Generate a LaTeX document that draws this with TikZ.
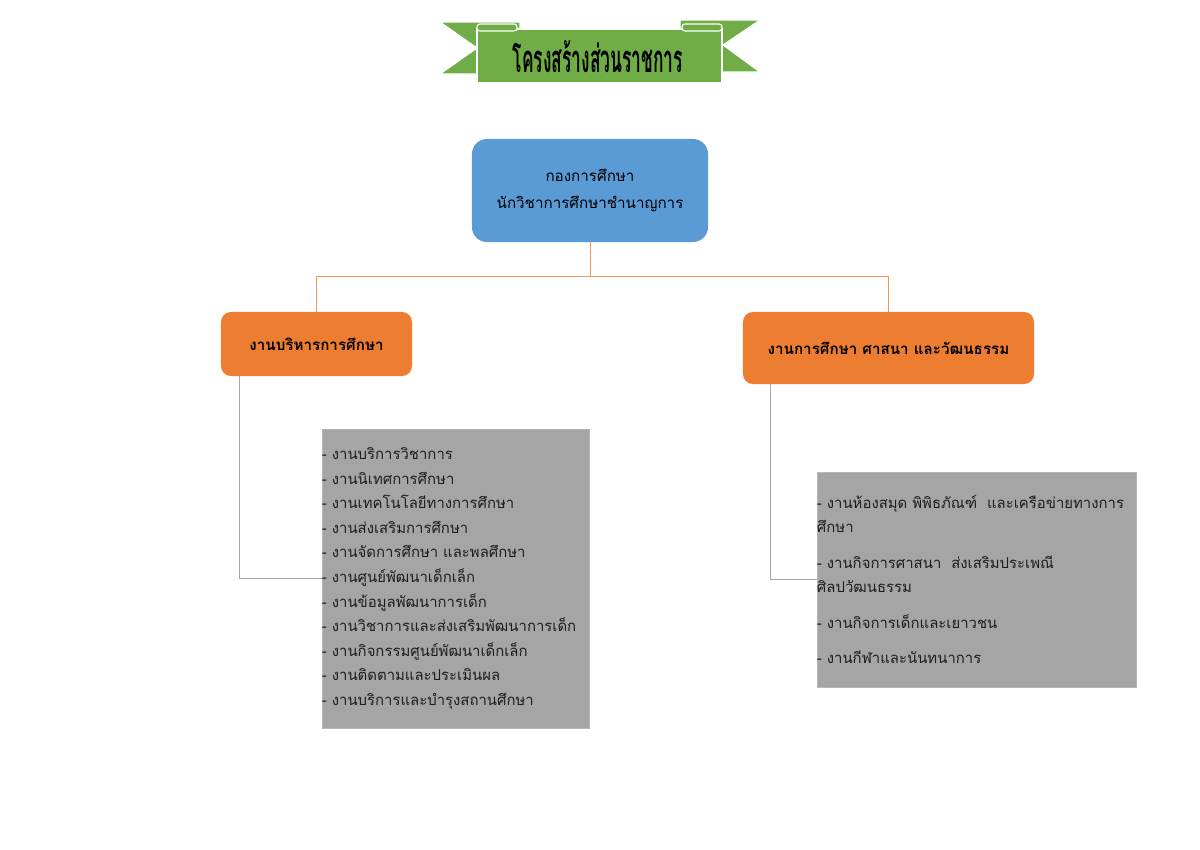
\documentclass[tikz,border=0pt]{standalone}
\usepackage{fontspec}
\setmainfont[Script=Thai]{Loma}
\usetikzlibrary{positioning}
\definecolor{ribbongreen}{HTML}{70AD47}
\definecolor{headblue}{HTML}{5B9BD5}
\definecolor{workorange}{HTML}{ED7D31}
\definecolor{listgray}{HTML}{A5A5A5}
\definecolor{inkgray}{HTML}{1E1E1E}

\begin{document}
\begin{tikzpicture}[x=0.025cm,y=-0.025cm,
  ribbon/.style={fill=ribbongreen,draw=white,line width=0.8pt},
  headbox/.style={fill=headblue,rounded corners=0.375cm,minimum width=5.9cm,minimum height=2.575cm,
    align=center,font=\fontsize{10.8}{19}\selectfont,text=black},
  workbox/.style={fill=workorange,rounded corners=0.25cm,align=center,
    font=\fontsize{10.8}{17}\selectfont\bfseries,text=black},
  listbox/.style={fill=listgray,draw=listgray!80!white,align=left,inner xsep=0pt,inner ysep=0pt,
    font=\fontsize{10.6}{17.5}\selectfont,text=inkgray},
  orangeline/.style={draw=workorange!80!white,line width=0.6pt},
  grayline/.style={draw=listgray,line width=0.6pt}]
\useasboundingbox[fill=white] (0,0) rectangle (1200,849);

\filldraw[ribbon] (440,22) -- (520,22) -- (520,74) -- (440,74) -- (477,48) -- cycle;
\filldraw[ribbon] (680,20) -- (760,20) -- (723,45) -- (760,72) -- (680,72) -- cycle;
\filldraw[ribbon] (477,29) rectangle (722,83);
\filldraw[ribbon,rounded corners=2pt] (477,24) rectangle (517,31);
\filldraw[ribbon,rounded corners=2pt] (682,24) rectangle (722,31);
\node (title) at (598,57) {\resizebox{4.25cm}{0.8cm}{\bfseries โครงสร้างส่วนราชการ}};

\node[headbox] (head) at (590,190.5) {กองการศึกษา\\นักวิชาการศึกษาชำนาญการ};
\node[workbox,minimum width=4.775cm,minimum height=1.6cm] (admin) at (316.5,344) {งานบริหารการศึกษา};
\node[workbox,minimum width=7.275cm,minimum height=1.8cm] (culture) at (888.5,348) {งานการศึกษา ศาสนา และวัฒนธรรม};

\node[listbox,text width=6.675cm,minimum height=7.475cm] (adminlist) at (455.5,578.5) {%
- งานบริการวิชาการ\\
- งานนิเทศการศึกษา\\
- งานเทคโนโลยีทางการศึกษา\\
- งานส่งเสริมการศึกษา\\
- งานจัดการศึกษา และพลศึกษา\\
- งานศูนย์พัฒนาเด็กเล็ก\\
- งานข้อมูลพัฒนาการเด็ก\\
- งานวิชาการและส่งเสริมพัฒนาการเด็ก\\
- งานกิจกรรมศูนย์พัฒนาเด็กเล็ก\\
- งานติดตามและประเมินผล\\
- งานบริการและบำรุงสถานศึกษา};
\node[listbox,text width=7.975cm,minimum height=5.375cm] (culturelist) at (976.5,579.5) {%
- งานห้องสมุด พิพิธภัณฑ์\ \ และเครือข่ายทางการ\\
ศึกษา\\[0.27cm]
- งานกิจการศาสนา\ \ ส่งเสริมประเพณี\\
ศิลปวัฒนธรรม\\[0.27cm]
- งานกิจการเด็กและเยาวชน\\[0.27cm]
- งานกีฬาและนันทนาการ};

\coordinate (split) at (590,276);
\draw[orangeline] (head.south) -- (split) -| (admin.north);
\draw[orangeline] (split) -| (culture.north);
\draw[grayline] ([xshift=0.475cm]admin.south west) |- (adminlist.west);
\draw[grayline] ([xshift=0.7cm]culture.south west) |- (culturelist.west);
\end{tikzpicture}
\end{document}
